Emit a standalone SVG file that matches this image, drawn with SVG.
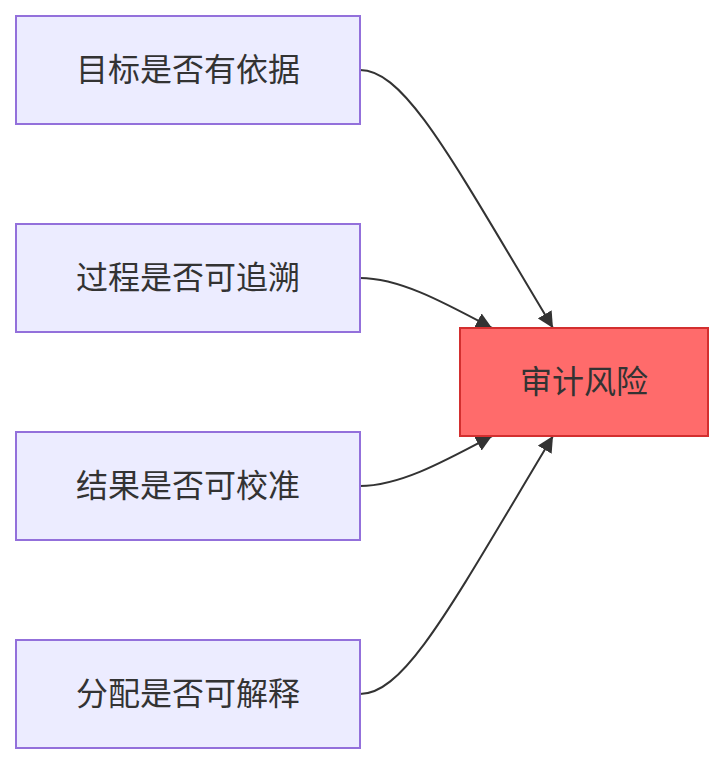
<svg xmlns="http://www.w3.org/2000/svg" width="724" height="764" viewBox="0 0 724 764">
<style>
.n rect{fill:#ECECFF;stroke:#9370DB;stroke-width:2}
.r rect{fill:#FF6B6B;stroke:#D32F2F;stroke-width:2}
text{font-family:"Liberation Sans","Noto Sans CJK SC",sans-serif;font-size:32px;fill:#333;text-anchor:middle;dominant-baseline:central}
.e path{fill:none;stroke:#333;stroke-width:2;marker-end:url(#ah)}
</style>
<defs>
<marker id="ah" viewBox="0 0 10 10" refX="10" refY="5" markerUnits="userSpaceOnUse" markerWidth="16" markerHeight="16" orient="auto">
<path d="M0,0 L10,5 L0,10 z" fill="#333"/>
</marker>
</defs>
<rect width="724" height="764" fill="#fff"/>
<g class="e" id="edges">
<path d="M360,70 C405,70 451,158 553,328"/>
<path d="M360,278 C400,278 445,303 492,328"/>
<path d="M360,486 C400,486 445,461 492,436"/>
<path d="M360,694 C405,694 451,606 553,436"/>
</g>
<g class="n" id="n1"><rect x="16" y="16" width="344" height="108"/><text x="188" y="70">目标是否有依据</text></g>
<g class="n" id="n2"><rect x="16" y="224" width="344" height="108"/><text x="188" y="278">过程是否可追溯</text></g>
<g class="n" id="n3"><rect x="16" y="432" width="344" height="108"/><text x="188" y="486">结果是否可校准</text></g>
<g class="n" id="n4"><rect x="16" y="640" width="344" height="108"/><text x="188" y="694">分配是否可解释</text></g>
<g class="r" id="risk"><rect x="460" y="328" width="248" height="108"/><text x="584" y="382">审计风险</text></g>
</svg>
